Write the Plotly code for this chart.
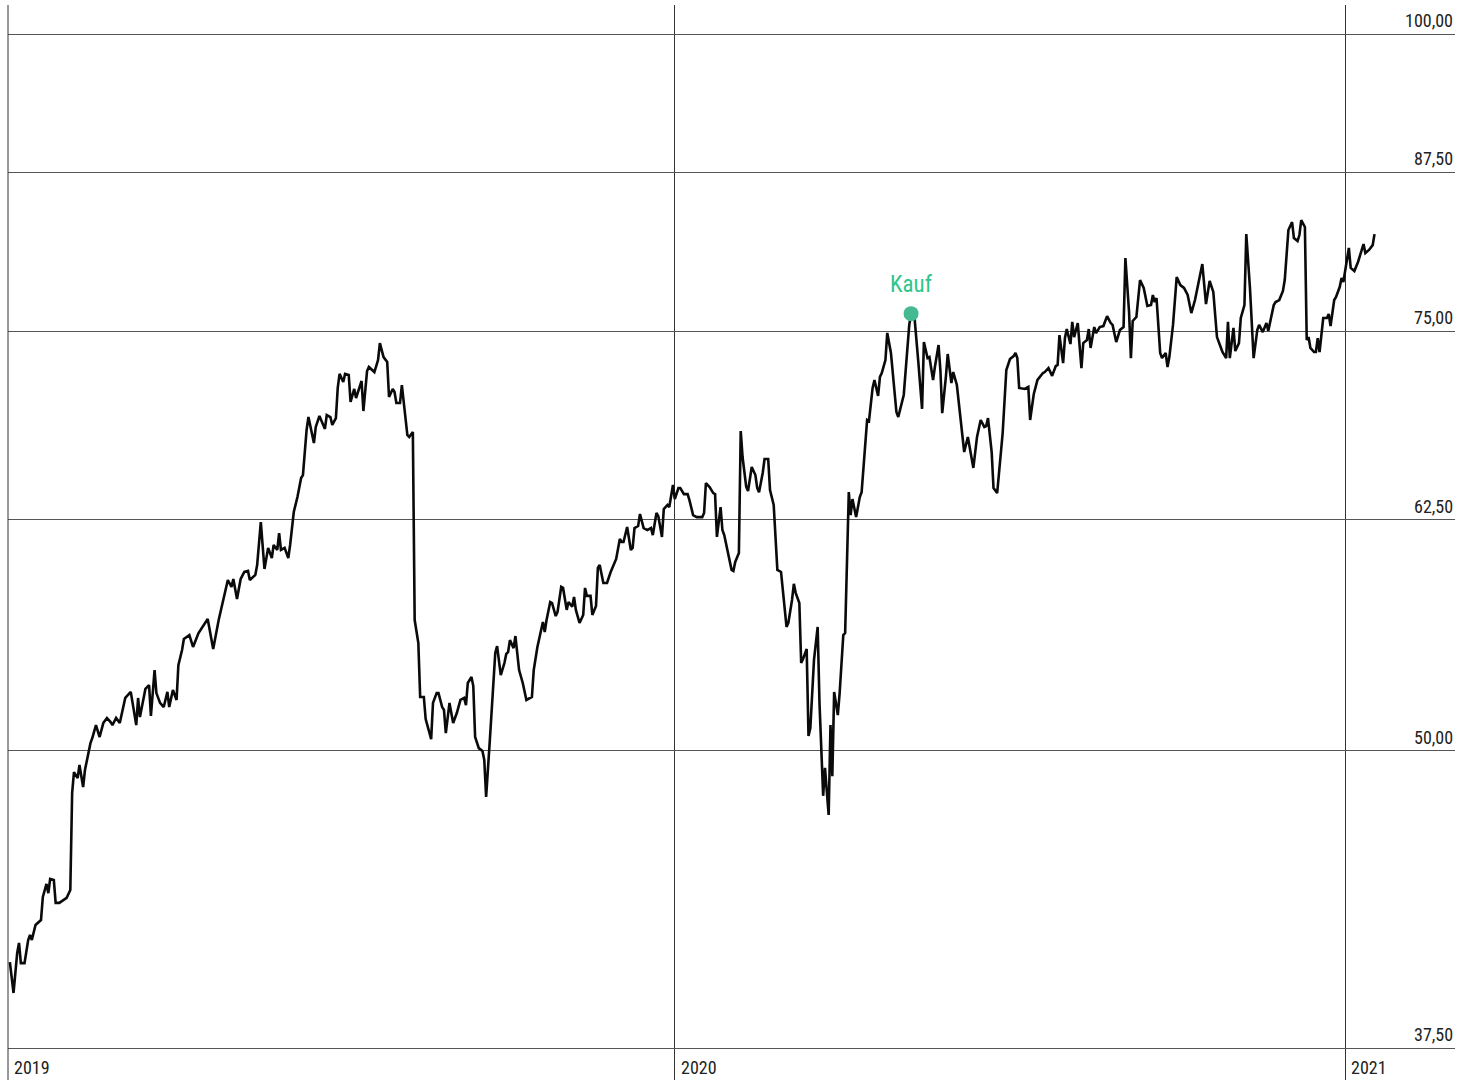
import numpy as np
import pandas as pd
import plotly.graph_objects as go

# ---------------- data ----------------
days_2019 = ["01-03","01-05","01-07","01-08","01-09","01-11","01-13","01-14","01-15","01-17",
 "01-20","01-21","01-23","01-24","01-25","01-27","01-28","01-30","02-03","02-05",
 "02-06","02-07","02-09","02-10","02-12","02-13","02-16","02-17","02-19","02-21",
 "02-23","02-25","02-27","02-28","03-02","03-04","03-07","03-10","03-13","03-14",
 "03-15","03-18","03-20","03-21","03-23","03-24","03-26","03-28","03-30","03-31",
 "04-02","04-04","04-05","04-07","04-08","04-11","04-13","04-16","04-21","04-24",
 "04-27","04-30","05-02","05-04","05-05","05-07","05-09","05-11","05-13","05-14",
 "05-17","05-18","05-20","05-22","05-24","05-26","05-27","05-29","05-30","05-31",
 "06-02","06-04","06-05","06-07","06-09","06-11","06-12","06-14","06-15","06-18",
 "06-19","06-21","06-22","06-24","06-25","06-27","06-28","06-30","07-01","07-02",
 "07-04","07-05","07-07","07-08","07-10","07-11","07-14","07-15","07-17","07-18",
 "07-21","07-23","07-24","07-26","07-28","07-29","07-31","08-01","08-02","08-04",
 "08-05","08-06","08-08","08-09","08-11","08-12","08-14","08-15","08-17","08-18",
 "08-19","08-21","08-22","08-24","08-25","08-27","08-28","08-29","08-31","09-01",
 "09-02","09-04","09-06","09-08","09-09","09-10","09-12","09-13","09-14","09-16",
 "09-18","09-19","09-20","09-22","09-25","09-26","09-28","09-30","10-01","10-02",
 "10-03","10-05","10-06","10-08","10-09","10-10","10-12","10-15","10-16","10-18",
 "10-21","10-22","10-23","10-25","10-26","10-28","10-29","10-31","11-01","11-03",
 "11-04","11-06","11-07","11-08","11-10","11-12","11-13","11-14","11-16","11-17",
 "11-19","11-20","11-21","11-23","11-25","11-27","11-30","12-02","12-03","12-04",
 "12-06","12-08","12-09","12-10","12-12","12-13","12-15","12-17","12-19","12-20",
 "12-22","12-23","12-25","12-26","12-28","12-29","12-31"]
values_2019 = [40.75,39.55,41.11,41.51,40.71,40.71,41.63,41.83,41.63,42.24,
 42.44,43.40,43.95,43.56,44.16,44.12,43.15,43.15,43.36,43.69,
 47.99,48.97,48.69,49.31,48.27,49.07,50.36,50.61,51.25,50.66,
 51.35,51.60,51.40,51.25,51.60,51.35,52.61,52.92,51.25,52.61,
 51.65,53.07,53.27,51.70,54.05,52.86,52.36,52.15,52.92,52.15,
 53.02,52.51,54.31,55.11,55.70,55.91,55.27,56.02,56.79,55.16,
 56.73,58.07,58.97,58.58,59.03,57.90,59.03,59.43,59.49,58.97,
 59.26,59.83,62.37,59.60,60.83,60.24,61.00,60.71,61.71,60.71,
 60.83,60.24,61.00,62.98,63.90,65.08,65.27,68.18,69.04,67.32,
 68.38,69.11,68.84,68.25,69.17,69.04,68.51,68.97,71.01,71.98,
 71.42,71.98,71.91,70.06,70.94,70.32,71.49,69.44,72.18,72.46,
 72.11,72.95,74.16,73.16,72.81,70.39,70.94,70.73,69.98,69.98,
 71.21,70.19,67.85,67.72,68.05,56.73,55.48,52.66,52.66,51.55,
 51.25,50.56,52.36,52.86,52.86,52.15,52.00,50.85,52.36,51.85,
 51.35,51.85,52.51,52.61,52.25,53.38,53.69,53.22,50.66,50.12,
 49.98,49.55,47.81,50.46,54.95,55.32,53.79,54.42,54.90,55.00,
 55.64,55.21,55.86,54.05,53.69,53.38,52.51,52.66,54.05,55.27,
 56.62,56.08,56.73,57.73,57.67,56.95,57.18,58.58,58.52,57.29,
 57.73,57.46,58.01,57.29,56.57,57.01,58.52,58.07,58.07,57.01,
 57.51,59.66,59.83,58.80,58.80,59.43,60.18,61.36,61.18,61.18,
 62.07,60.71,60.83,62.01,62.13,62.86,62.01,61.89,62.01,61.59,
 62.92,62.73,61.48,63.16,63.41,63.28,64.65]

days_2020 = ["01-01","01-03","01-04","01-06","01-08","01-09","01-11","01-13","01-16","01-17",
 "01-18","01-20","01-22","01-23","01-24","01-26","01-27","01-28","01-30","02-01",
 "02-02","02-03","02-05","02-06","02-07","02-09","02-10","02-12","02-14","02-15",
 "02-16","02-18","02-19","02-21","02-22","02-24","02-26","02-28","03-02","03-03",
 "03-05","03-06","03-07","03-09","03-10","03-11","03-13","03-14","03-15","03-17",
 "03-19","03-20","03-22","03-23","03-25","03-26","03-27","03-28","03-30","03-31",
 "04-02","04-03","04-05","04-06","04-07","04-09","04-11","04-12","04-15","04-16",
 "04-18","04-19","04-21","04-22","04-23","04-25","04-26","04-28","05-01","05-02",
 "05-05","05-07","05-08","05-09","05-11","05-13","05-15","05-16","05-18","05-19",
 "05-21","05-22","05-24","05-25","05-26","05-28","05-29","05-31","06-01","06-03",
 "06-05","06-07","06-09","06-11","06-12","06-14","06-16","06-18","06-19","06-20",
 "06-22","06-23","06-25","06-28","06-30","07-02","07-04","07-05","07-06","07-07",
 "07-10","07-12","07-13","07-15","07-17","07-20","07-21","07-23","07-25","07-27",
 "07-28","07-29","07-31","08-01","08-02","08-04","08-05","08-06","08-08","08-10",
 "08-11","08-13","08-14","08-15","08-17","08-18","08-20","08-22","08-24","08-26",
 "08-27","08-29","08-31","09-02","09-03","09-05","09-06","09-07","09-09","09-11",
 "09-13","09-15","09-17","09-18","09-19","09-20","09-22","09-23","09-25","09-26",
 "09-27","09-29","10-01","10-03","10-05","10-07","10-09","10-11","10-14","10-15",
 "10-17","10-19","10-21","10-23","10-25","10-26","10-28","10-29","10-30","11-01",
 "11-02","11-04","11-05","11-07","11-08","11-10","11-12","11-14","11-15","11-17",
 "11-19","11-20","11-23","11-24","11-26","11-28","11-29","12-01","12-03","12-04",
 "12-06","12-07","12-08","12-10","12-11","12-12","12-13","12-15","12-16","12-17",
 "12-18","12-20","12-22","12-23","12-24","12-26","12-27","12-29","12-30","12-31"]
values_2020 = [63.77,64.46,64.46,64.08,64.08,63.71,62.79,62.67,62.67,62.92,
 64.77,64.52,64.14,64.08,61.48,63.28,61.89,61.59,60.59,59.55,
 59.49,60.01,60.53,68.11,66.42,64.52,64.27,65.78,65.27,64.46,
 64.20,65.40,66.29,66.29,64.33,63.41,59.55,59.43,56.35,56.57,
 57.84,58.75,58.24,57.67,54.42,54.63,55.16,50.71,51.10,54.58,
 56.35,52.36,47.86,49.17,46.98,51.25,48.78,52.92,51.75,52.86,
 55.91,56.02,64.20,62.79,63.77,62.67,63.90,64.20,68.84,68.77,
 71.01,71.56,70.46,71.77,72.04,72.95,74.89,73.45,69.37,69.04,
 70.53,74.16,75.47,76.30,75.83,72.74,69.58,74.23,73.09,73.16,
 71.56,72.46,74.02,72.25,69.30,71.77,73.38,71.35,72.11,71.21,
 68.84,66.74,67.72,66.23,65.72,67.72,68.84,68.38,68.44,68.97,
 66.74,64.46,64.14,67.98,72.25,73.02,73.23,73.45,73.09,71.01,
 70.94,71.08,68.84,70.60,71.56,72.04,72.11,72.39,71.84,72.53,
 72.60,74.73,72.74,74.52,75.17,74.09,75.69,74.59,75.61,72.39,
 74.16,74.38,75.17,73.81,75.32,74.88,75.32,75.39,76.12,75.61,
 75.47,74.23,75.10,75.32,80.52,76.42,73.09,75.76,76.05,78.82,
 78.22,76.87,76.94,77.69,77.16,77.46,73.45,73.09,73.45,72.46,
 73.16,75.47,79.05,78.44,78.22,77.69,76.34,77.31,79.21,80.05,
 77.01,78.75,77.92,74.59,73.88,73.52,73.09,75.69,73.09,75.25,
 73.59,74.16,75.98,76.94,82.40,78.22,73.09,75.10,75.47,74.95,
 75.61,75.03,76.94,77.16,77.31,77.99,78.82,82.73,83.37,82.09,
 81.85,82.33,83.53,82.97,74.38,74.59,73.81,73.52,73.52,74.52,
 73.52,75.98,75.98,76.27,75.39,77.31,77.54,78.29,78.97,78.67]

days_2021 = ["01-03","01-04","01-06","01-08","01-11","01-12","01-14","01-16","01-17"]
values_2021 = [81.31,79.75,79.51,80.21,81.61,80.91,81.15,81.53,82.40]

buy_date = "2020-05-09"
buy_value = 76.30
buy_label = "Kauf"

y_ticks = [37.5, 50.0, 62.5, 75.0, 87.5, 100.0]
y_tick_labels = ["37,50", "50,00", "62,50", "75,00", "87,50", "100,00"]
year_ticks = ["2019-01-01", "2020-01-01", "2021-01-01"]
year_labels = ["2019", "2020", "2021"]

dates = (["2019-" + d for d in days_2019] + ["2020-" + d for d in days_2020]
         + ["2021-" + d for d in days_2021])
values = values_2019 + values_2020 + values_2021

# ---------------- layout geometry ----------------
W, H = 1457, 1080
ML, MR, MT, MB = 8, 2, 5, 0
FONT = "Liberation Sans Narrow, Arial Narrow, Roboto Condensed, DejaVu Sans Condensed, sans-serif"

px_per_day = (1347 - 8) / 731.0
x_start = pd.Timestamp("2019-01-01") + pd.Timedelta(days=(ML - 6.2) / px_per_day)
x_end = x_start + pd.Timedelta(days=(W - ML - MR) / px_per_day)

px_per_dec = (1048 - 34) / np.log10(100 / 37.5)
y_lo = np.log10(37.5) - (H - 1048) / px_per_dec
y_hi = 2.0 + (34 - MT) / px_per_dec

fig = go.Figure()
fig.add_trace(go.Scatter(x=dates, y=values, mode="lines",
                         line=dict(color="#0a0a0a", width=2.6),
                         hoverinfo="skip", showlegend=False))
fig.add_trace(go.Scatter(x=[buy_date], y=[buy_value], mode="markers",
                         marker=dict(color="#45b98f", size=15),
                         hoverinfo="skip", showlegend=False))

annotations = []
for v, lab in zip(y_ticks, y_tick_labels):
    annotations.append(dict(x=1, xref="paper", xanchor="right", y=np.log10(v), yref="y",
                            yanchor="bottom", yshift=1, text=lab, showarrow=False,
                            font=dict(family=FONT, size=18, color="#222222")))
for d, lab in zip(year_ticks, year_labels):
    if pd.Timestamp(d) < x_start:
        # gridline of this year falls on the left edge of the plot
        pos = dict(x=0, xref="paper")
    else:
        pos = dict(x=d, xref="x")
    annotations.append(dict(**pos, xanchor="left", xshift=4, y=0, yref="paper",
                            yanchor="bottom", yshift=0, text=lab, showarrow=False,
                            font=dict(family=FONT, size=18, color="#222222")))
annotations.append(dict(x=buy_date, y=np.log10(buy_value), xref="x", yref="y",
                        yanchor="bottom", yshift=14, text=buy_label, showarrow=False,
                        font=dict(family=FONT, size=23, color="#2fc48b")))

fig.update_layout(
    width=W, height=H,
    margin=dict(l=ML, r=MR, t=MT, b=MB),
    paper_bgcolor="white", plot_bgcolor="white",
    showlegend=False,
    annotations=annotations,
    shapes=[dict(type="line", xref="paper", yref="paper", x0=0, x1=0, y0=0, y1=1,
                 line=dict(color="#333333", width=1))],
    xaxis=dict(type="date", range=[x_start, x_end], tickvals=year_ticks,
               showticklabels=False, ticks="", showgrid=True, gridcolor="#333333",
               gridwidth=1, zeroline=False, showline=False, fixedrange=True),
    yaxis=dict(type="log", range=[y_lo, y_hi], tickvals=y_ticks, side="right",
               showticklabels=False, ticks="", showgrid=True, gridcolor="#555555",
               gridwidth=1, zeroline=False, showline=False, fixedrange=True),
)

fig.write_html("out.html", config={"displayModeBar": False},
               post_script="document.body.style.margin='0';document.body.style.overflow='hidden';")
